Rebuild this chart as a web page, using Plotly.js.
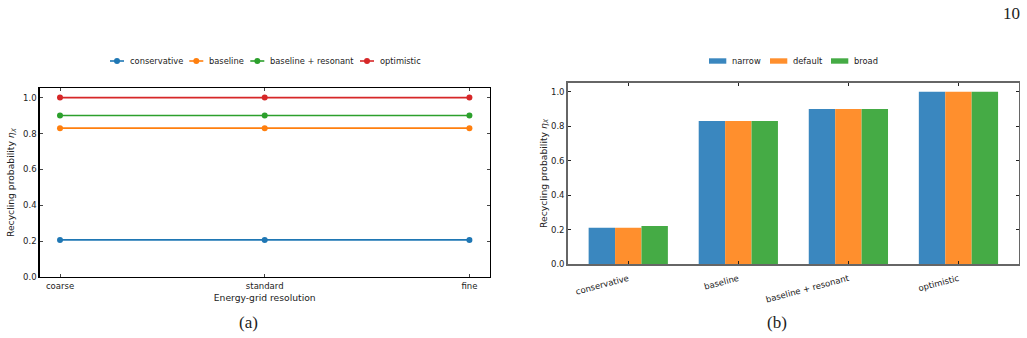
<!DOCTYPE html>
<html>
<head>
<meta charset="utf-8">
<script src="https://cdn.plot.ly/plotly-3.0.1.min.js"></script>
<style>
  html, body { margin: 0; padding: 0; background: #fff; }
  #chart { width: 1027px; height: 338px; }
</style>
</head>
<body>
<div id="chart"></div>
<script>
// Panel (a): recycling probability versus energy-grid resolution
const resolutions = ['coarse', 'standard', 'fine'];
const conservative = [0.208, 0.208, 0.208];
const baseline = [0.83, 0.83, 0.83];
const baselineResonant = [0.90, 0.90, 0.90];
const optimistic = [1.0, 1.0, 1.0];
const lineNames = ['conservative', 'baseline', 'baseline + resonant', 'optimistic'];

// Panel (b): recycling probability per scenario and line-width setting
const scenarios = ['conservative', 'baseline', 'baseline + resonant', 'optimistic'];
const narrow = [0.21, 0.83, 0.90, 1.0];
const defaultWidth = [0.21, 0.83, 0.90, 1.0];
const broad = [0.22, 0.83, 0.90, 1.0];
const barNames = ['narrow', 'default', 'broad'];

const lineColors = ['#1f77b4', '#ff7f0e', '#2ca02c', '#d62728'];
const barColors = ['#3a87bf', '#ff8f2d', '#45ab45'];
const FONT = 'DejaVu Sans, sans-serif';
const SERIF = 'Liberation Serif, DejaVu Serif, serif';
const W = 1027, H = 338;
const px = v => v / W;
const py = v => 1 - v / H;

const lineSeries = [conservative, baseline, baselineResonant, optimistic];
const barSeries = [narrow, defaultWidth, broad];

const data = [];
lineSeries.forEach((ys, i) => data.push({
  type: 'scatter', mode: 'lines+markers', name: lineNames[i],
  x: resolutions, y: ys, xaxis: 'x', yaxis: 'y', showlegend: false,
  line: {color: lineColors[i], width: 1.6},
  marker: {color: lineColors[i], size: 6}
}));
barSeries.forEach((ys, i) => data.push({
  type: 'bar', name: barNames[i], x: scenarios, y: ys,
  xaxis: 'x2', yaxis: 'y2', showlegend: false,
  marker: {color: barColors[i], line: {width: 0}}
}));

// Legend keys above each panel, built from the series names and colours
const shapes = [];
const annotations = [];
const legendY = 61;
const legendFont = {family: FONT, size: 8.3, color: '#222'};
const lineKeyStarts = [110, 189.3, 250.3, 360];
lineNames.forEach((name, i) => {
  const x0 = lineKeyStarts[i];
  shapes.push({type: 'line', xref: 'paper', yref: 'paper',
    x0: px(x0), x1: px(x0 + 14), y0: py(legendY), y1: py(legendY),
    line: {color: lineColors[i], width: 1.6}});
  shapes.push({type: 'circle', xref: 'paper', yref: 'paper',
    x0: px(x0 + 4), x1: px(x0 + 10), y0: py(legendY - 3), y1: py(legendY + 3),
    fillcolor: lineColors[i], line: {width: 0}});
  annotations.push({text: name, xref: 'paper', yref: 'paper',
    x: px(x0 + 18), y: py(legendY), xanchor: 'left', yanchor: 'middle',
    showarrow: false, font: legendFont});
});
const barKeyStarts = [709, 770, 831];
barNames.forEach((name, i) => {
  const x0 = barKeyStarts[i];
  shapes.push({type: 'rect', xref: 'paper', yref: 'paper',
    x0: px(x0), x1: px(x0 + 17.3), y0: py(legendY - 2.7), y1: py(legendY + 2.7),
    fillcolor: barColors[i], line: {width: 0}});
  annotations.push({text: name, xref: 'paper', yref: 'paper',
    x: px(x0 + 21.3), y: py(legendY), xanchor: 'left', yanchor: 'middle',
    showarrow: false, font: legendFont});
});

// Panel captions and page number
annotations.push(
  {text: '(a)', xref: 'paper', yref: 'paper', x: px(248), y: py(322),
   xanchor: 'center', yanchor: 'middle', showarrow: false,
   font: {family: SERIF, size: 17, color: '#222'}},
  {text: '(b)', xref: 'paper', yref: 'paper', x: px(777), y: py(322),
   xanchor: 'center', yanchor: 'middle', showarrow: false,
   font: {family: SERIF, size: 17, color: '#222'}},
  {text: '10', xref: 'paper', yref: 'paper', x: px(1011), y: py(13.5),
   xanchor: 'center', yanchor: 'middle', showarrow: false,
   font: {family: SERIF, size: 17, color: '#222'}}
);

const yTitle = 'Recycling probability <i>η<sub>X</sub></i>';
const tickFont = {family: FONT, size: 8.5, color: '#222'};
const titleFont = {family: FONT, size: 9.2, color: '#222'};

const layout = {
  width: W, height: H,
  margin: {l: 0, r: 0, t: 0, b: 0},
  paper_bgcolor: '#fff', plot_bgcolor: '#fff',
  font: {family: FONT, color: '#222'},
  showlegend: false,
  barmode: 'group', bargap: 0.28, bargroupgap: 0,
  xaxis: {
    domain: [0.0385, 0.477], anchor: 'y',
    type: 'category', range: [-0.1, 2.1],
    showgrid: false, zeroline: false,
    showline: true, linecolor: '#000', linewidth: 1.2, mirror: 'ticks',
    ticks: 'inside', ticklen: 3, tickcolor: '#444', tickwidth: 1,
    tickfont: tickFont,
    title: {text: 'Energy-grid resolution', font: titleFont, standoff: 4}
  },
  yaxis: {
    domain: [0.1796, 0.7405], anchor: 'x',
    range: [0, 1.055], tickvals: [0, 0.2, 0.4, 0.6, 0.8, 1.0],
    tickformat: '.1f',
    showgrid: false, zeroline: false,
    showline: true, linecolor: '#000', linewidth: 1.2, mirror: 'ticks',
    ticks: 'inside', ticklen: 3, tickcolor: '#444', tickwidth: 1,
    tickfont: tickFont,
    title: {text: yTitle, font: titleFont, standoff: 6}
  },
  xaxis2: {
    domain: [0.5528, 0.9922], anchor: 'y2',
    type: 'category', range: [-0.55, 3.55],
    showgrid: false, zeroline: false,
    showline: true, linecolor: '#666', linewidth: 1.5, mirror: 'ticks',
    ticks: 'inside', ticklen: 3, tickcolor: '#222', tickwidth: 1,
    tickangle: -15, ticklabelstandoff: 5,
    tickfont: tickFont
  },
  yaxis2: {
    domain: [0.2189, 0.7553], anchor: 'x2',
    range: [0, 1.052], tickvals: [0, 0.2, 0.4, 0.6, 0.8, 1.0],
    tickformat: '.1f',
    showgrid: false, zeroline: false,
    showline: true, linecolor: '#666', linewidth: 1.5, mirror: 'ticks',
    ticks: 'inside', ticklen: 3, tickcolor: '#222', tickwidth: 1,
    tickfont: tickFont,
    title: {text: yTitle, font: titleFont, standoff: 2}
  },
  shapes: shapes,
  annotations: annotations
};

Plotly.newPlot('chart', data, layout, {displayModeBar: false, staticPlot: true});
</script>
</body>
</html>
